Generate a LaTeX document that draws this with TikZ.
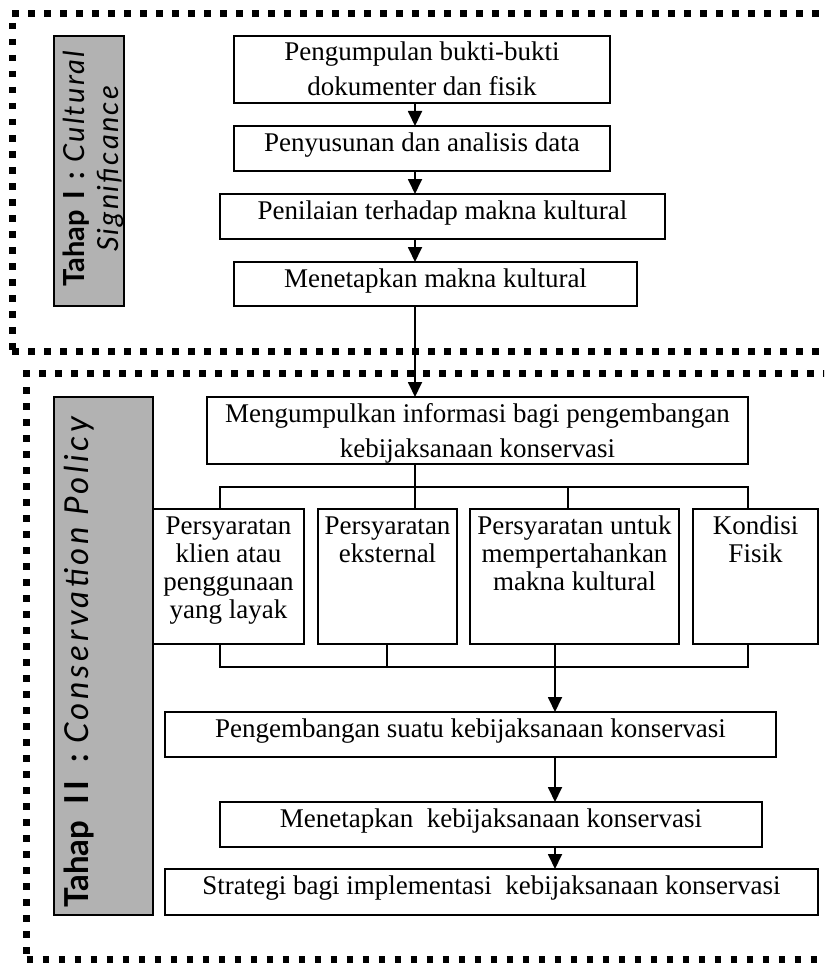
\documentclass[tikz,border=0pt]{standalone}
\usepackage{fontspec}
\setmainfont{Liberation Serif}
\newfontfamily\labfont{Lato}
\newfontfamily\labita[LetterSpace=8]{Lato Italic}
\newfontfamily\labitb[LetterSpace=11]{Lato Italic}
\usetikzlibrary{arrows.meta}
\newcommand\mybox[7]{%
  \node[box] (#1) at ({(#2+#4)/2},{(#3+#5)/2})
  {\parbox[c][\dimexpr#5pt-#3pt\relax][t]{\dimexpr#4pt-#2pt\relax}{\centering\fontsize{27}{#6}\selectfont\rule{0pt}{25pt}#7\par}};}
\begin{document}
\begin{tikzpicture}[x=1pt,y=-1pt,
  box/.style={draw, line width=1.8pt, inner sep=0pt, outer sep=0pt, fill=white},
  arr/.style={line width=1.8pt, -{Triangle[width=14pt,length=15pt]}},
  ln/.style={line width=1.8pt},
  dotline/.style={line width=6.5pt, dash pattern=on 6.5pt off 9.5pt},
  graybox/.style={draw, line width=1.8pt, fill=black!30, inner sep=0pt, outer sep=0pt},
  labtext/.style={rotate=90, inner sep=0pt}]
\useasboundingbox (0,0) rectangle (824,963);
\begin{scope}
\clip (0,0) rectangle (824,963);
\draw[dotline] (12,13.5) -- (850,13.5);
\draw[dotline] (12.5,23) -- (12.5,352);
\draw[dotline] (12,351.5) -- (850,351.5);
\draw[dotline] (23,373.5) -- (850,373.5);
\draw[dotline] (26.5,387) -- (26.5,954);
\draw[dotline] (26.5,959.5) -- (850,959.5);
\end{scope}

% stage labels
\node[graybox, minimum width=70pt, minimum height=270pt] (g1) at (89,171) {};
\node[graybox, minimum width=99pt, minimum height=518pt] (g2) at (103.5,656) {};
\node[labtext, anchor=base, font=\fontsize{29}{35}\selectfont] (t1a) at (84,168.5)
  {{\labfont\bfseries Tahap\hspace{10pt}I\hspace{12pt}:}\hspace{9pt}{\labita Cultural}};
\node[labtext, anchor=base, font=\fontsize{29}{35}\selectfont] (t1b) at (118,169) {\labita Significance};
\node[labtext, anchor=base west, font=\fontsize{33}{40}\selectfont] (t2) at (88,908)
  {{\labfont\bfseries Tahap\hspace{16pt}I\kern4pt I\hspace{19pt}:}\hspace{10pt}{\labitb Conservation Policy}};

% boxes
\mybox{b1}{234}{36}{610}{103}{35}{Pengumpulan bukti-bukti\\dokumenter dan fisik}
\mybox{b2}{234}{126}{610}{171}{35}{Penyusunan dan analisis data}
\mybox{b3}{220}{194}{665}{239}{35}{Penilaian terhadap makna kultural}
\mybox{b4}{234}{262}{637}{306}{35}{Menetapkan makna kultural}
\mybox{m}{207}{397}{748}{464}{35}{Mengumpulkan informasi bagi pengembangan\\kebijaksanaan konservasi}
\mybox{bA}{153}{509}{304}{644}{28}{Persyaratan\\klien atau\\penggunaan\\yang layak}
\mybox{bB}{318}{509}{457}{644}{28}{Persyaratan\\eksternal}
\mybox{bC}{470}{509}{679}{644}{28}{Persyaratan untuk\\mempertahankan\\makna kultural}
\mybox{bD}{693}{509}{818}{644}{28}{Kondisi\\Fisik}
\mybox{bE}{165}{712}{776}{757}{35}{Pengembangan suatu kebijaksanaan konservasi}
\mybox{bF}{220}{802}{762}{847}{35}{Menetapkan\ \ kebijaksanaan konservasi}
\mybox{bG}{165}{869}{818}{915}{35}{Strategi bagi implementasi\ \ kebijaksanaan konservasi}

% helper coordinates
\coordinate (xa) at (415,0);
\coordinate (xb) at (555,0);
\coordinate (cA) at (220,0);
\coordinate (cB) at (387,0);
\coordinate (cC) at (568,0);
\coordinate (cD) at (748,0);
\coordinate (busT) at (0,487);
\coordinate (busB) at (0,667);

% connectors
\draw[arr] (b1.south -| xa) -- (b2.north -| xa);
\draw[arr] (b2.south -| xa) -- (b3.north -| xa);
\draw[arr] (b3.south -| xa) -- (b4.north -| xa);
\draw[arr] (b4.south -| xa) -- (m.north -| xa);
\draw[ln] (m.south -| xa) -- (bB.north -| xa);
\draw[ln] (bA.north -| cA) -- (busT -| cA) -- (busT -| cD) -- (bD.north -| cD);
\draw[ln] (busT -| cC) -- (bC.north -| cC);
\draw[ln] (bA.south -| cA) -- (busB -| cA) -- (busB -| cD) -- (bD.south -| cD);
\draw[ln] (bB.south -| cB) -- (busB -| cB);
\draw[arr] (bC.south -| xb) -- (bE.north -| xb);
\draw[arr] (bE.south -| xb) -- (bF.north -| xb);
\draw[arr] (bF.south -| xb) -- (bG.north -| xb);
\end{tikzpicture}
\end{document}
